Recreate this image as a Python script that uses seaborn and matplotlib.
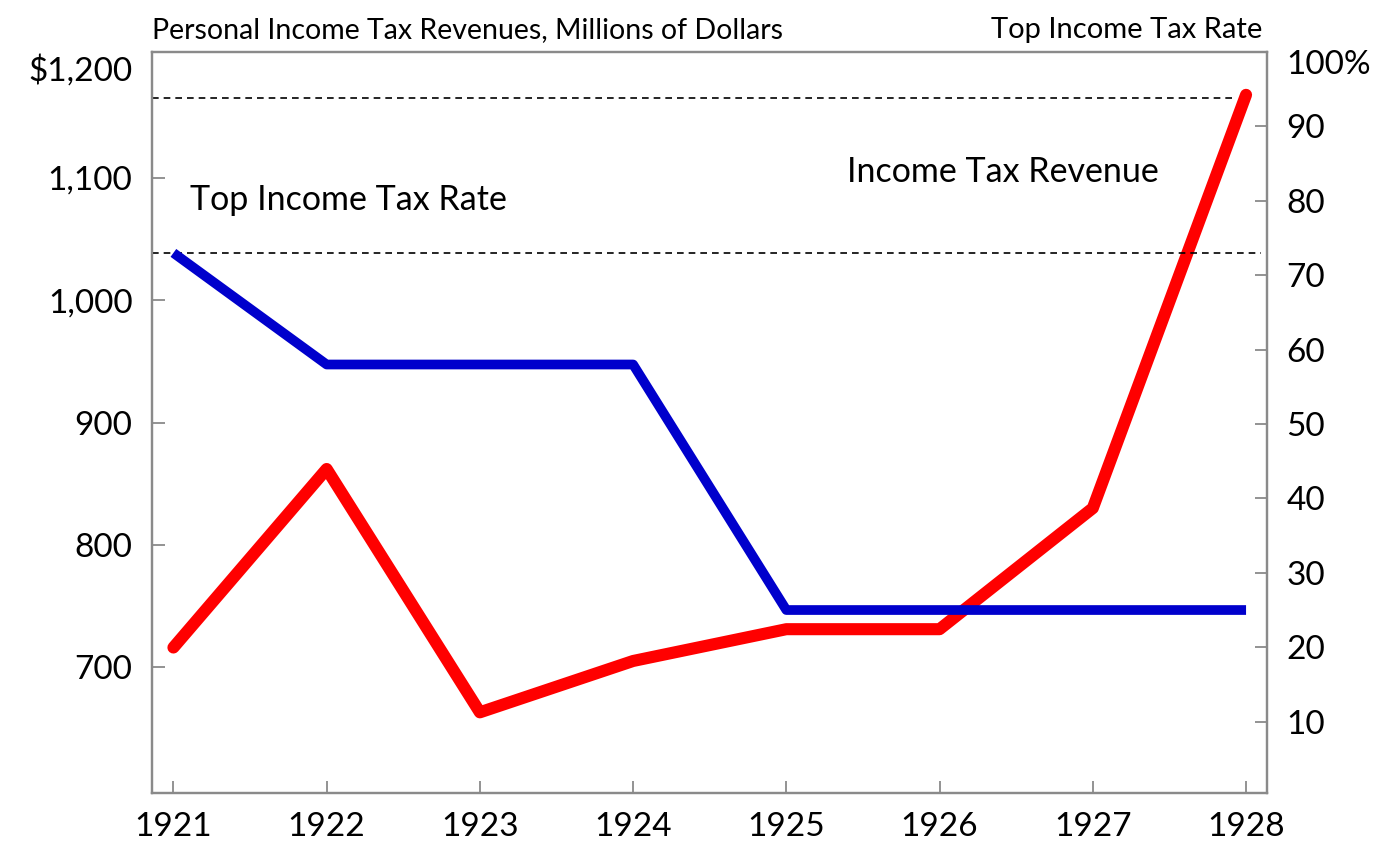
import pandas as pd
import numpy as np
import matplotlib
matplotlib.use('Agg')
import matplotlib.pyplot as plt
import matplotlib.transforms as mtrans
import seaborn as sns

# ── DATA ───────────────────────────────────────────────────────────────────
years = [1921, 1922, 1923, 1924, 1925, 1926, 1927, 1928]
revenue = [716, 862, 663, 705, 731, 731, 830, 1168]     # millions of dollars
top_rate = [73, 58, 58, 58, 25, 25, 25, 25]              # percent

ref_revenue = 1165   # dashed line, left axis
ref_rate = 73        # dashed line, right axis

left_ticks = [700, 800, 900, 1000, 1100, 1200]
left_labels = ['700', '800', '900', '1,000', '1,100', '$1,200']
right_ticks = [10, 20, 30, 40, 50, 60, 70, 80, 90, 100]
right_labels = ['10', '20', '30', '40', '50', '60', '70', '80', '90', '100%']

df = pd.DataFrame({'Year': years, 'Revenue': revenue, 'Rate': top_rate})

# ── STYLE ──────────────────────────────────────────────────────────────────
sns.set_style('white')
plt.rcParams['font.family'] = ['Lato', 'DejaVu Sans']
plt.rcParams.update({
    'text.color': 'black',
    'xtick.color': 'black',
    'ytick.color': 'black',
    'axes.labelcolor': 'black',
})
SPINE = '#8a8a8a'
RED = '#ff0000'
BLUE = '#0000cc'

fig = plt.figure(figsize=(13.89, 8.46), dpi=100)
ax = fig.add_axes([0.1094, 0.0626, 0.8028, 0.8759])
ax2 = ax.twinx()

sns.lineplot(data=df, x='Year', y='Revenue', ax=ax, color=RED,
             linewidth=8.7, solid_capstyle='round', zorder=3)
sns.lineplot(data=df, x='Year', y='Rate', ax=ax2, color=BLUE,
             linewidth=7, solid_capstyle='butt', zorder=2)

ax.hlines(ref_revenue, 1920.86, 1927.92, colors='black',
          linestyles=(0, (4, 3)), linewidth=1.2, zorder=1)
ax2.axhline(ref_rate, xmax=0.995, color='black',
            linestyle=(0, (4, 3)), linewidth=1.2, zorder=1)

ax.set_xlim(1920.86, 1928.137)
ax.set_ylim(597, 1203)
ax2.set_ylim(0.4, 100)

ax.set_xticks(years)
ax.set_xticklabels([str(y) for y in years])
ax.set_yticks(left_ticks)
ax.set_yticklabels(left_labels)
ax2.set_yticks(right_ticks)
ax2.set_yticklabels(right_labels)

ax.set_xlabel('')
ax.set_ylabel('')
ax2.set_ylabel('')

for a in (ax, ax2):
    for s in a.spines.values():
        s.set_color(SPINE)
        s.set_linewidth(1.6)
ax.tick_params(axis='x', direction='in', length=9, width=1.3, color=SPINE,
               labelsize=24, labelcolor='black', pad=14, bottom=True, top=False)
ax.tick_params(axis='y', direction='in', length=9, width=1.3, color=SPINE,
               labelsize=24, labelcolor='black', pad=14, left=True, right=False)
ax2.tick_params(axis='y', direction='in', length=9, width=1.3, color=SPINE,
                labelsize=24, labelcolor='black', pad=14, right=True, left=False)

# top labels sit a bit below their tick
shift = mtrans.ScaledTranslation(0, -0.115, fig.dpi_scale_trans)
t = ax.yaxis.get_major_ticks()[-1]
t.label1.set_transform(t.label1.get_transform() + shift)
t.tick1line.set_visible(False)
shift2 = mtrans.ScaledTranslation(0, -0.10, fig.dpi_scale_trans)
t2 = ax2.yaxis.get_major_ticks()[-1]
t2.label2.set_transform(t2.label2.get_transform() + shift2)
t2.tick2line.set_visible(False)

# ── TEXT ───────────────────────────────────────────────────────────────────
ax.text(0.0, 1.012, 'Personal Income Tax Revenues, Millions of Dollars',
        transform=ax.transAxes, ha='left', va='bottom', fontsize=20.5,
        color='black')
ax.text(0.996, 1.012, 'Top Income Tax Rate', transform=ax.transAxes,
        ha='right', va='bottom', fontsize=21, color='black')
ax.text(0.034, 0.80, 'Top Income Tax Rate', transform=ax.transAxes,
        ha='left', va='center', fontsize=24.5, color='black')
ax.text(0.623, 0.838, 'Income Tax Revenue', transform=ax.transAxes,
        ha='left', va='center', fontsize=24.5, color='black')

plt.savefig('out.png', dpi=100)
plt.close()
